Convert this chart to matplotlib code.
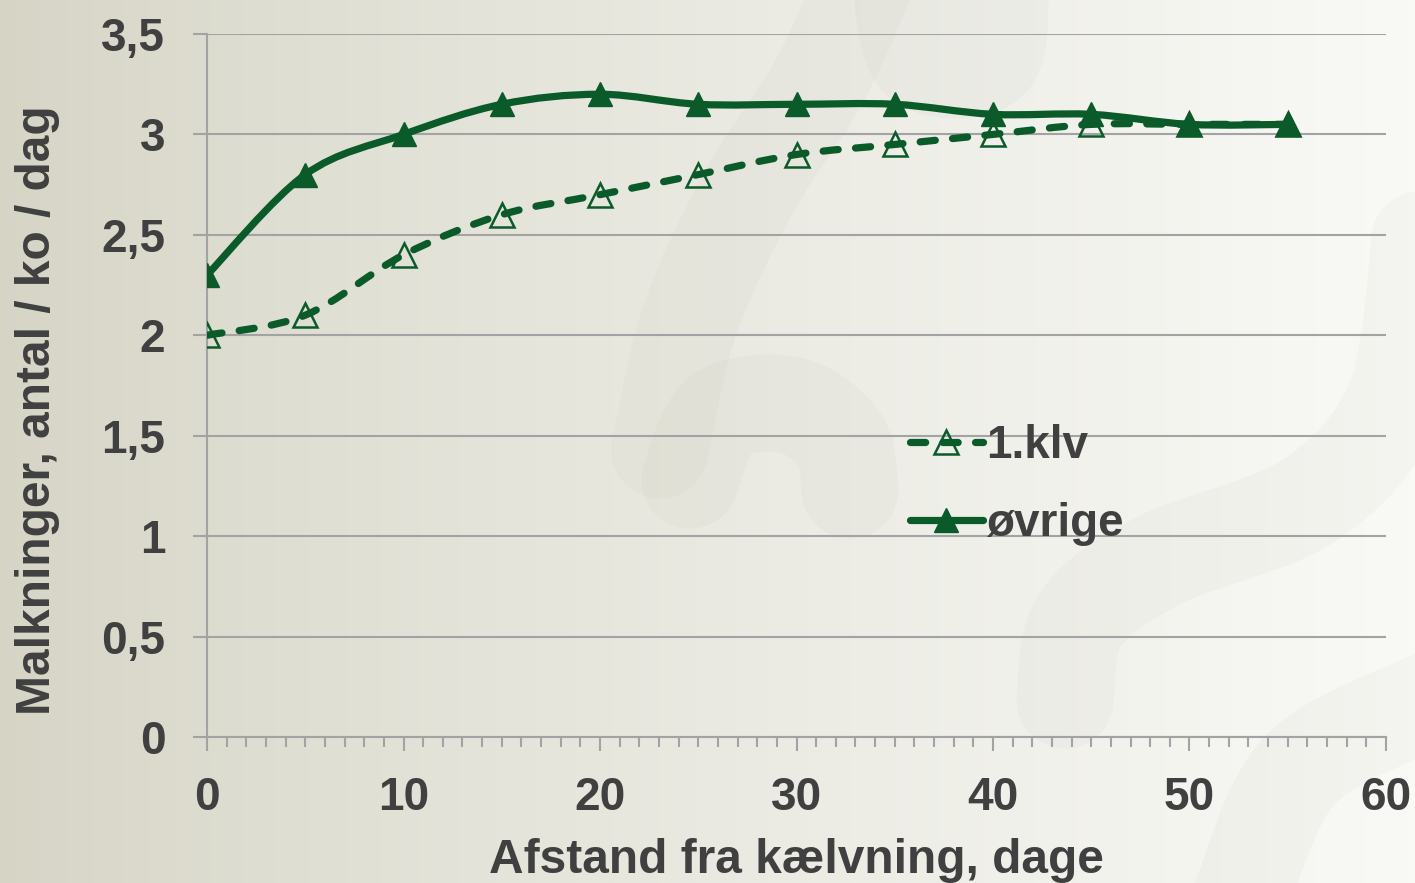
import numpy as np
import matplotlib
matplotlib.use("Agg")
from matplotlib import pyplot as plt
from matplotlib.path import Path
from matplotlib.patches import PathPatch
from matplotlib.lines import Line2D
from matplotlib.ticker import MultipleLocator, FuncFormatter

# data
days = [0, 5, 10, 15, 20, 25, 30, 35, 40, 45, 50, 55]
first_calf = [2.0, 2.1, 2.4, 2.6, 2.7, 2.8, 2.9, 2.95, 3.0, 3.05, 3.05, 3.05]
others = [2.3, 2.8, 3.0, 3.15, 3.2, 3.15, 3.15, 3.15, 3.1, 3.1, 3.05, 3.05]
series_names = ["1.klv", "øvrige"]

green = "#0a5a2a"
text_col = "#404040"
grid_col = "#a3a3a3"

plt.rcParams['font.family'] = ['Liberation Sans', 'DejaVu Sans']
plt.rcParams['font.weight'] = 'bold'


def smooth_path(xs, ys):
  # excel style smoothed line: bezier through the points
  pts = np.column_stack([xs, ys]).astype(float)
  ext = np.vstack([pts[0], pts, pts[-1]])
  verts = [pts[0]]
  codes = [Path.MOVETO]
  for i in range(1, len(ext) - 2):
    p0, p1, p2, p3 = ext[i - 1], ext[i], ext[i + 1], ext[i + 2]
    verts += [p1 + (p2 - p0) / 6, p2 - (p3 - p1) / 6, p2]
    codes += [Path.CURVE4] * 3
  return Path(verts, codes)


fig = plt.figure(figsize=(14.15, 8.83), dpi=100)

# background gradient with faint decorative swirls
bg = fig.add_axes([0, 0, 1, 1], zorder=-10)
grad = np.linspace(0, 1, 256)
c0 = np.array([213, 212, 197]) / 255
c1 = np.array([249, 249, 246]) / 255
img = c0[None, :] + (c1 - c0)[None, :] * (grad ** 0.8)[:, None]
bg.imshow(img[None, :, :], aspect="auto", extent=[0, 1415, 883, 0])
shade = (0.55, 0.55, 0.48)
swirls = [
  [(660, 450), (690, 320), (750, 190), (820, 80), (870, -30)],
  [(690, 480), (720, 415), (790, 405), (840, 440), (850, 490)],
  [(1420, 240), (1395, 400), (1310, 500), (1160, 560), (1080, 620), (1065, 700)],
  [(1240, 900), (1300, 770), (1430, 700)],
  [(900, -20), (920, 60), (990, 60), (1000, -20)],
]
for sw in swirls:
  sx, sy = zip(*sw)
  bg.add_patch(PathPatch(smooth_path(sx, sy), fill=False, edgecolor=shade, alpha=0.045,
                         lw=70, capstyle="round", joinstyle="round"))
bg.set_xlim(0, 1415)
bg.set_ylim(883, 0)
bg.axis("off")

ax = fig.add_axes([0.1463, 0.1654, 0.8332, 0.7961])
ax.set_facecolor("none")
ax.set_xlim(0, 60)
ax.set_ylim(0, 3.5)

ax.yaxis.set_major_locator(MultipleLocator(0.5))
ax.xaxis.set_major_locator(MultipleLocator(10))
ax.xaxis.set_minor_locator(MultipleLocator(1))
ax.yaxis.set_major_formatter(FuncFormatter(lambda v, p: f"{v:g}".replace(".", ",")))
ax.grid(axis="y", color=grid_col, lw=1.5, zorder=0)
ax.set_axisbelow(True)

for s in ["top", "right"]:
  ax.spines[s].set_visible(False)
for s in ["left", "bottom"]:
  ax.spines[s].set_color(grid_col)
  ax.spines[s].set_linewidth(1.5)

ax.tick_params(axis="y", which="major", length=10, width=1.5, color=grid_col,
               labelsize=33, labelcolor=text_col, pad=20)
ax.tick_params(axis="x", which="major", length=10, width=1.5, color=grid_col,
               labelsize=33, labelcolor=text_col, pad=18)
ax.tick_params(axis="x", which="minor", length=7, width=1.5, color=grid_col)

# lines
lw = 5.2
dash = (0, (2.1, 2.4))
p1 = PathPatch(smooth_path(days, first_calf), fill=False, edgecolor=green, lw=lw,
               linestyle=dash, capstyle="round", zorder=3)
ax.add_patch(p1)
p2 = PathPatch(smooth_path(days, others), fill=False, edgecolor=green, lw=lw,
               capstyle="round", zorder=3)
ax.add_patch(p2)
ax.plot(days, first_calf, linestyle="none", marker="^", markersize=17,
        markerfacecolor="none", markeredgecolor=green, markeredgewidth=1.8, zorder=4)
ax.plot(days, others, linestyle="none", marker="^", markersize=17,
        markerfacecolor=green, markeredgecolor=green, zorder=4)

handles = [
  Line2D([], [], color=green, lw=lw, linestyle=dash, dash_capstyle="round",
         marker="^", markersize=17, markerfacecolor="none", markeredgecolor=green,
         markeredgewidth=1.8),
  Line2D([], [], color=green, lw=lw, solid_capstyle="round", marker="^", markersize=17,
         markerfacecolor=green, markeredgecolor=green),
]
leg = ax.legend(handles, series_names, loc="center left", bbox_to_anchor=(0.596, 0.359),
                frameon=False, fontsize=33, handlelength=1.6, handletextpad=0.06,
                labelspacing=0.74, borderpad=0, borderaxespad=0)
for t in leg.get_texts():
  t.set_color(text_col)

ax.set_xlabel("Afstand fra kælvning, dage", fontsize=34.5, color=text_col,
              fontweight="bold", labelpad=13)
ax.set_ylabel("Malkninger, antal / ko / dag", fontsize=34.5, color=text_col,
              fontweight="bold")
ax.yaxis.set_label_coords(-0.125, 0.465)

fig.savefig("out.png", dpi=100)
